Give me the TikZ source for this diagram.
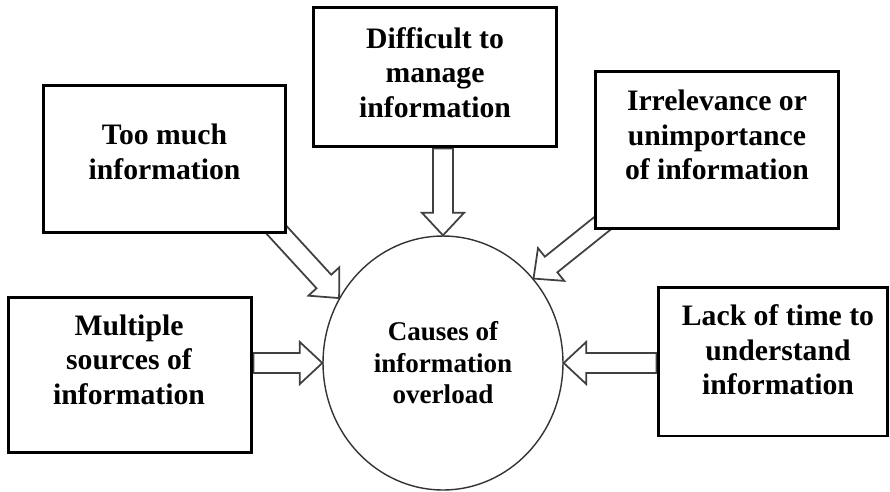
\documentclass[tikz,border=0pt]{standalone}
\usepackage{fontspec}
\setmainfont{Liberation Serif}
\usetikzlibrary{shapes.geometric,calc,backgrounds}

\tikzset{
  box/.style={rectangle, draw, line width=1.7pt, fill=white, inner sep=0pt},
  txt/.style={align=center, font=\fontsize{16.9}{19.6}\selectfont\bfseries},
  hollow/.style={draw=black!75, line width=1pt, fill=white,
    to path={let \p1=(\tikztostart), \p2=(\tikztotarget),
      \n1={atan2(\y2-\y1,\x2-\x1)}, \n3={veclen(\x2-\x1,\y2-\y1)-12.8pt} in
      ($(\p1)+(\n1-90:0.2cm)$) -- ($(\p1)+(\n1:\n3)+(\n1-90:0.2cm)$)
      -- ($(\p1)+(\n1:\n3)+(\n1-90:0.42cm)$) -- (\p2)
      -- ($(\p1)+(\n1:\n3)+(\n1+90:0.42cm)$)
      -- ($(\p1)+(\n1:\n3)+(\n1+90:0.2cm)$)
      -- ($(\p1)+(\n1+90:0.2cm)$) -- cycle}},
}

\begin{document}
\begin{tikzpicture}[x=0.02cm, y=-0.02cm]
    \useasboundingbox (0,0) rectangle (890,491);

    % ノードの定義
    \node[ellipse, draw=black!80, line width=0.8pt, minimum width=4.8cm, minimum height=5.08cm,
          inner sep=0pt, align=center, font=\fontsize{15.4}{17.9}\selectfont\bfseries]
          (cause) at (443,363) {Causes of\\information\\overload};
    \node[box, minimum width=4.86cm, minimum height=2.96cm] (tm) at (164.5,159) {};
    \node[box, minimum width=4.88cm, minimum height=2.8cm] (dm) at (435,77) {};
    \node[box, minimum width=4.88cm, minimum height=3.16cm] (ir) at (717,150) {};
    \node[box, minimum width=4.88cm, minimum height=3.12cm] (ms) at (130,375) {};
    \node[box, minimum width=4.6cm, minimum height=2.98cm] (lt) at (773,361.5) {};

    % 四角の中の文字
    \node[txt, yshift=0.14cm] (tmtxt) at (tm) {Too much\\information};
    \node[txt, yshift=0.09cm] (dmtxt) at (dm) {Difficult to\\manage\\information};
    \node[txt, yshift=0.3cm] (irtxt) at (ir) {Irrelevance or\\unimportance\\of information};
    \node[txt, xshift=-0.02cm, yshift=0.31cm] (mstxt) at (ms) {Multiple\\sources of\\information};
    \node[txt, xshift=0.1cm, yshift=0.23cm] (lttxt) at (lt) {Lack of time to\\understand\\information};

    % 矢印(白抜き)
    \begin{scope}[on background layer]
        \draw[hollow] (cause.north |- dm.south) to (cause.north);
        \draw[hollow] (cause.west -| ms.east) to (cause.west);
        \draw[hollow] (cause.east -| lt.west) to (cause.east);
        \draw[hollow] ($(tm.-33)!-0.25!(cause.148)$) to (cause.148);
        \draw[hollow] ($(ir.south west)!-0.25!(cause.43)$) to (cause.43);
    \end{scope}
\end{tikzpicture}
\end{document}
